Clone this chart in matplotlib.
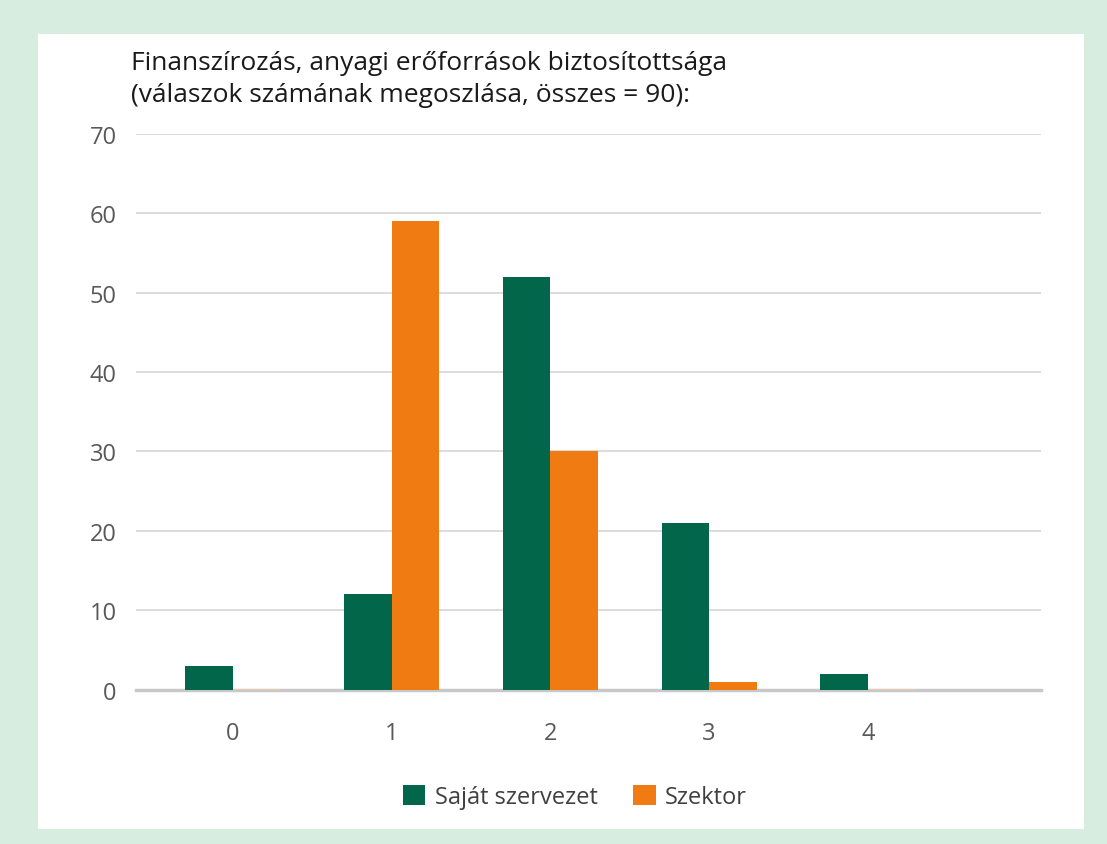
import numpy as np
import matplotlib
matplotlib.use("Agg")
from matplotlib import pyplot as plt
from matplotlib.patches import Rectangle

categories = ["0", "1", "2", "3", "4"]
sajat = [3, 12, 52, 21, 2]
szektor = [0, 59, 30, 1, 0]
yticks = [0, 10, 20, 30, 40, 50, 60, 70]
title_lines = ["Finanszírozás, anyagi erőforrások biztosítottsága",
               "(válaszok számának megoszlása, összes = 90):"]

GREEN = "#02674a"
ORANGE = "#ef7b12"
TXT = "#595959"

plt.rcParams["font.family"] = ["Open Sans", "DejaVu Sans"]

W, H = 1107, 845
fig = plt.figure(figsize=(W / 100, H / 100), dpi=100)
fig.patch.set_facecolor("#d6ede0")
# white inner panel
fig.add_artist(Rectangle((38 / W, 1 - 830 / H), (1084 - 38) / W, (830 - 35) / H,
                         transform=fig.transFigure, facecolor="white",
                         edgecolor="none", zorder=0))

ax = fig.add_axes([136 / W, 1 - 690.5 / H, (1041 - 136) / W, (690.5 - 135) / H])
ax.set_facecolor("none")

x = np.arange(len(categories))
w = 0.3
ax.bar(x - w / 2, sajat, w, color=GREEN, zorder=3, label="Saját szervezet")
# zero values still show as a faint stub in the original
edge = ["#f2c9a6" if v == 0 else "none" for v in szektor]
ax.bar(x + w / 2, szektor, w, color=ORANGE, edgecolor=edge, linewidth=1.2,
       zorder=3, label="Szektor")

ax.set_xlim(-0.61, 5.09)
ax.set_ylim(0, 70)
ax.set_yticks(yticks)
ax.set_xticks(x)
ax.set_xticklabels(categories)
ax.grid(axis="y", color="#dcdcdc", linewidth=1.4, zorder=0)
for s in ["top", "right", "left"]:
    ax.spines[s].set_visible(False)
ax.spines["bottom"].set_color("#c8c8c8")
ax.spines["bottom"].set_linewidth(2.5)
ax.spines["bottom"].set_zorder(2.5)
ax.tick_params(axis="both", length=0, labelsize=17, labelcolor=TXT)
ax.tick_params(axis="y", pad=14)
ax.tick_params(axis="x", pad=23)

for i, line in enumerate(title_lines):
    fig.text(131 / W, 1 - (63 + 32 * i) / H, line, fontsize=19, color="#1a1a1a",
             va="center", ha="left")

leg = fig.legend(loc="center", bbox_to_anchor=(575 / W, 1 - 798 / H), ncol=2,
                 frameon=False, fontsize=17, labelcolor="#404040",
                 handlelength=0.95, handleheight=0.95, columnspacing=1.5,
                 handletextpad=0.4)
for h in leg.legend_handles:
    h.set_edgecolor("none")

fig.savefig("out.png", dpi=100)
